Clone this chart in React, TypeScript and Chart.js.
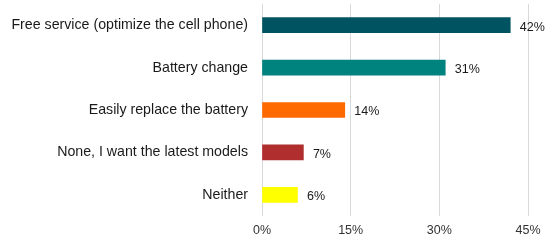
import React, { useEffect, useRef } from "react";
import { Chart, registerables } from "chart.js";

Chart.register(...registerables);

const categories = [
  "Free service (optimize the cell phone)",
  "Battery change",
  "Easily replace the battery",
  "None, I want the latest models",
  "Neither",
];
const values = [42, 31, 14, 7, 6];
const barColors = ["#005462", "#00827F", "#FF6A00", "#B02E2E", "#FFFF00"];
const xTicks = [0, 15, 30, 45];

const FONT = "'Liberation Sans', Arial, sans-serif";

const dataLabelPlugin = {
  id: "dataLabels",
  afterDatasetsDraw(chart: any) {
    const ctx = chart.ctx;
    const meta = chart.getDatasetMeta(0);
    ctx.save();
    ctx.font = `12.5px ${FONT}`;
    ctx.fillStyle = "#1a1a1a";
    ctx.textAlign = "left";
    ctx.textBaseline = "middle";
    meta.data.forEach((bar: any, i: number) => {
      ctx.fillText(`${values[i]}%`, bar.x + 9.5, bar.y + 2);
    });
    ctx.restore();
  },
};

export default function App() {
  const ref = useRef<HTMLCanvasElement | null>(null);
  useEffect(() => {
    document.body.style.margin = "0";
    const chart = new Chart(ref.current as HTMLCanvasElement, {
      type: "bar",
      data: {
        labels: categories,
        datasets: [
          {
            data: values,
            backgroundColor: barColors,
            barThickness: 15,
          },
        ],
      },
      options: {
        indexAxis: "y",
        animation: false,
        responsive: false,
        maintainAspectRatio: false,
        layout: { padding: { top: 4, right: 22, left: 0, bottom: 0 } },
        plugins: {
          legend: { display: false },
          tooltip: { enabled: false },
        },
        scales: {
          x: {
            min: 0,
            max: 45,
            afterBuildTicks: (scale: any) => {
              scale.ticks = xTicks.map((v) => ({ value: v }));
            },
            afterFit: (scale: any) => {
              scale.height = 24;
            },
            grid: { color: "#d9d9d9", drawTicks: false },
            border: { display: false },
            ticks: {
              padding: 7,
              color: "#333333",
              font: { family: FONT, size: 12.5 },
              callback: (v: any) => `${v}%`,
            },
          },
          y: {
            grid: { display: false, drawTicks: false },
            border: { display: false },
            afterFit: (scale: any) => {
              scale.width = 262;
              scale.paddingTop = 0;
              scale.paddingBottom = 0;
            },
            ticks: {
              padding: 14,
              color: "#1a1a1a",
              font: { family: FONT, size: 14.2 },
            },
          },
        },
      },
      plugins: [dataLabelPlugin],
    });
    return () => chart.destroy();
  }, []);
  return (
    <div style={{ width: 550, height: 240 }}>
      <canvas ref={ref} width={550} height={240} />
    </div>
  );
}
